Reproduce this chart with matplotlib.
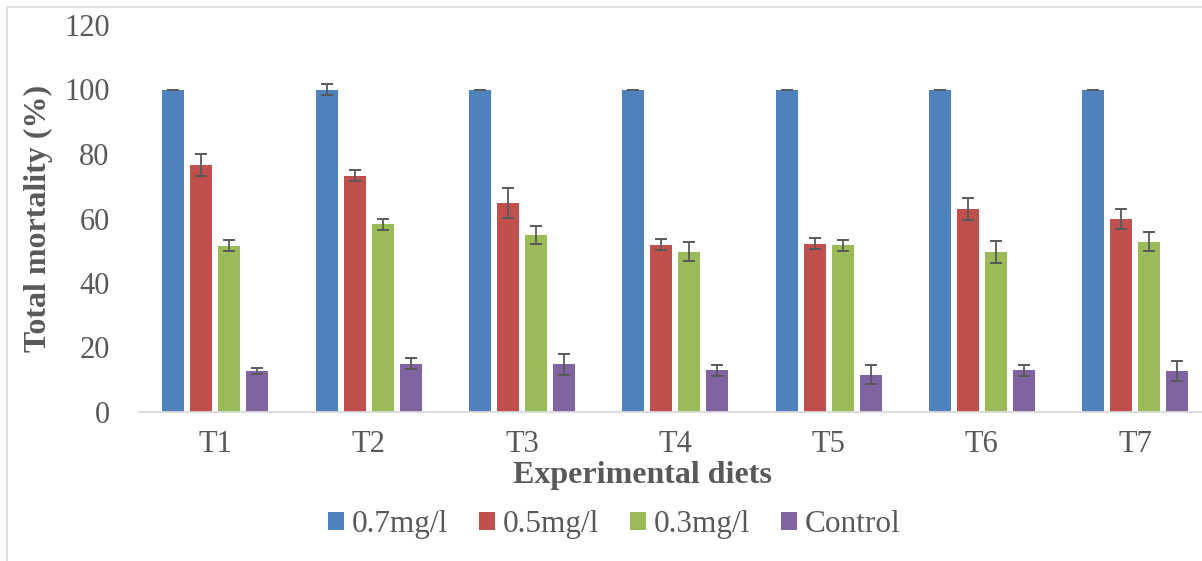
import matplotlib
matplotlib.use("Agg")
import matplotlib.pyplot as plt
import numpy as np
from matplotlib.patches import Rectangle

categories = ["T1", "T2", "T3", "T4", "T5", "T6", "T7"]
series_names = ["0.7mg/l", "0.5mg/l", "0.3mg/l", "Control"]
v07 = [100, 100, 100, 100, 100, 100, 100]
e07 = [0, 1.7, 0, 0, 0, 0, 0]
v05 = [76.6, 73.3, 64.9, 51.8, 52.2, 62.9, 59.8]
e05 = [3.4, 1.7, 4.7, 1.7, 1.7, 3.4, 3.0]
v03 = [51.5, 58.2, 54.9, 49.7, 51.7, 49.7, 52.8]
e03 = [1.7, 1.7, 2.9, 2.9, 1.7, 3.4, 3.0]
vctl = [12.7, 15.0, 14.8, 13.0, 11.6, 13.0, 12.7]
ectl = [1.0, 1.7, 3.3, 1.7, 3.0, 1.7, 3.0]
colors = ["#4F81BD", "#C0504D", "#9BBB59", "#8064A2"]

plt.rcParams['font.family'] = ['Liberation Serif', 'DejaVu Serif']

W, H = 1202, 561
fig = plt.figure(figsize=(W / 100, H / 100), dpi=100)
fig.patches.append(Rectangle((7 / W, -0.1), 1.2, 1 - 7 / H + 0.1, transform=fig.transFigure,
                             fill=False, edgecolor="#d9d9d9", linewidth=1.2))
ax_left, ax_w = 138.8, 1073
ax = fig.add_axes([ax_left / W, 1 - 412 / H, ax_w / W, 387 / H])

x = np.arange(len(categories))
step = 0.1826
width = 0.1435
data = [(v07, e07), (v05, e05), (v03, e03), (vctl, ectl)]
for i, (vals, errs) in enumerate(data):
    ax.bar(x + (i - 1.5) * step, vals, width, yerr=errs, color=colors[i], label=series_names[i],
           error_kw=dict(ecolor="#595959", elinewidth=1.3, capsize=4.5, capthick=1.4), zorder=2)

ax.set_xlim(-0.5, len(categories) - 0.5)
ax.set_ylim(0, 120)
ax.set_yticks(np.arange(0, 121, 20))
ax.set_xticks(x)
ax.set_xticklabels(categories)
ax.tick_params(axis='both', length=0, labelsize=22, labelcolor="#595959")
ax.tick_params(axis='y', pad=21)
ax.tick_params(axis='x', pad=13)
for s in ["top", "right", "left"]:
    ax.spines[s].set_visible(False)
ax.spines["bottom"].set_color("#d9d9d9")
ax.spines["bottom"].set_linewidth(1.3)

ax.set_ylabel("Total mortality (%)", fontsize=23, fontweight="bold", color="#595959",
              va="center", ha="center")
ax.yaxis.set_label_coords((38 - ax_left) / ax_w, 0.5)
ax.set_xlabel("Experimental diets", fontsize=23, fontweight="bold", color="#595959",
              va="center", ha="center")
ax.xaxis.set_label_coords((642 - ax_left) / ax_w, (412 - 476) / 387)

leg = fig.legend(loc="center", bbox_to_anchor=(614.5 / W, 1 - 524.5 / H), ncol=4, frameon=False,
                 fontsize=22.5, handlelength=0.5, handleheight=0.5, handletextpad=0.25,
                 columnspacing=1.0, labelcolor="#595959")

fig.savefig("out.png", dpi=100)
